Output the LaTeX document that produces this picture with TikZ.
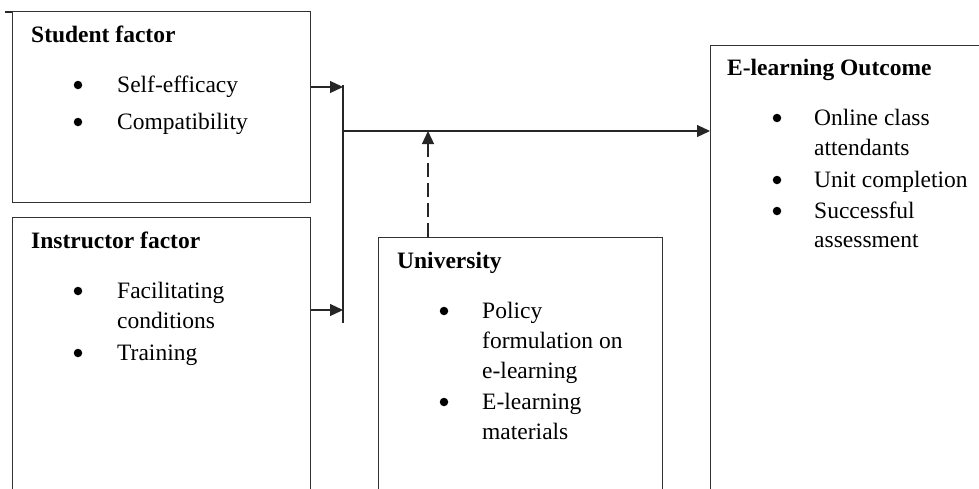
\documentclass[tikz,border=0pt]{standalone}
\usepackage{fontspec}
\setmainfont{Liberation Serif}
\usetikzlibrary{arrows.meta}
\begin{document}
\begin{tikzpicture}[x=1pt,y=1pt,
  box/.style={draw=black!80, line width=1.2pt, rectangle, inner sep=0pt, anchor=north west},
  ttl/.style={anchor=base west, inner sep=0pt, font=\fontsize{23.5}{28}\selectfont\bfseries},
  itm/.style={anchor=base west, inner sep=0pt, font=\fontsize{23.5}{28}\selectfont},
  bul/.style={circle, fill=black, inner sep=0pt, minimum size=8.5pt},
  conn/.style={draw=black!85, line width=1.2pt},
  arr/.style={conn, -{Triangle[length=13pt,width=12pt]}}]
\useasboundingbox (0,0) rectangle (979,-488);
\fill[white] (0,0) rectangle (979,-488);
% boxes
\node[box, minimum width=298pt, minimum height=191pt] (student) at (12,-11) {};
\node[box, minimum width=298pt, minimum height=300pt] (instructor) at (12,-217) {};
\node[box, minimum width=284pt, minimum height=280pt] (univ) at (378,-237) {};
\node[box, minimum width=300pt, minimum height=470pt] (outcome) at (710,-45) {};
% small tick at top left
\coordinate (tk1) at (5,-12);
\draw[conn] (tk1) -- (student.north west |- tk1);
% student text
\node[ttl] (st) at (31,-42) {Student factor};
\node[bul] (sb1) at (78,-85) {};
\node[itm] (s1) at (117,-92) {Self-efficacy};
\node[bul] (sb2) at (78,-122) {};
\node[itm] (s2) at (117,-129) {Compatibility};
% instructor text
\node[ttl] (it) at (31,-248) {Instructor factor};
\node[bul] (ib1) at (78,-291) {};
\node[itm] (i1) at (117,-298) {Facilitating};
\node[itm] (i1b) at (117,-328) {conditions};
\node[bul] (ib2) at (78,-353) {};
\node[itm] (i2) at (117,-360) {Training};
% university text
\node[ttl] (ut) at (397,-268) {University};
\node[bul] (ub1) at (444,-311) {};
\node[itm] (u1) at (482,-318) {Policy};
\node[itm] (u1b) at (482,-348) {formulation on};
\node[itm] (u1c) at (482,-378) {e-learning};
\node[bul] (ub2) at (444,-402) {};
\node[itm] (u2) at (482,-409) {E-learning};
\node[itm] (u2b) at (482,-439) {materials};
% outcome text
\node[ttl] (ot) at (727,-75) {E-learning Outcome};
\node[bul] (ob1) at (777,-118) {};
\node[itm] (o1) at (814,-125) {Online class};
\node[itm] (o1b) at (814,-155) {attendants};
\node[bul] (ob2) at (777,-180) {};
\node[itm] (o2) at (814,-187) {Unit completion};
\node[bul] (ob3) at (777,-211) {};
\node[itm] (o3) at (814,-218) {Successful};
\node[itm] (o3b) at (814,-247) {assessment};
% connectors
\coordinate (j1) at (343,-87);
\coordinate (j2) at (343,-310);
\coordinate (vtop) at (343,-85);
\coordinate (vbot) at (343,-323);
\coordinate (h0) at (343,-131);
\coordinate (d) at (428,-131);
\draw[arr] (student.east |- j1) -- (j1);
\draw[arr] (instructor.east |- j2) -- (j2);
\draw[conn] (vtop) -- (vbot);
\draw[arr] (h0) -- (outcome.west |- h0);
\draw[arr, dash pattern=on 14pt off 6pt] (univ.north -| d) -- (d);
\end{tikzpicture}
\end{document}
